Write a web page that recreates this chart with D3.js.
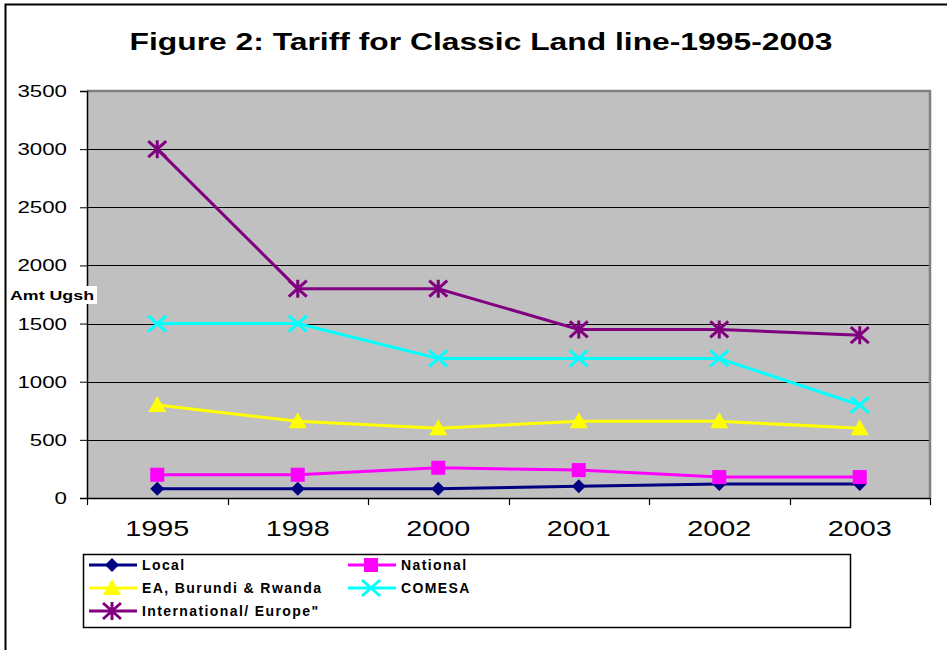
<!DOCTYPE html>
<html>
<head>
<meta charset="utf-8">
<script src="https://cdn.jsdelivr.net/npm/d3@7"></script>
<style>
  body { margin: 0; background: #fff; }
  svg { display: block; font-family: "Liberation Sans", Arial, sans-serif; }
</style>
</head>
<body>
<div id="vis"></div>
<script>
// Data
const YEARS = ["1995", "1998", "2000", "2001", "2002", "2003"];
const LOCAL = [80, 80, 80, 100, 120, 120];
const NATIONAL = [200, 200, 260, 240, 180, 180];
const EA = [800, 660, 600, 660, 660, 600];
const COMESA = [1500, 1500, 1200, 1200, 1200, 800];
const INTERNATIONAL = [3000, 1800, 1800, 1450, 1450, 1400];
const Y_TICKS = [0, 500, 1000, 1500, 2000, 2500, 3000, 3500];

const SERIES = [
    { name: "Local", values: LOCAL, color: "#000080", marker: "diamond" },
    { name: "National", values: NATIONAL, color: "#FF00FF", marker: "square" },
    { name: "EA, Burundi & Rwanda", values: EA, color: "#FFFF00", marker: "triangle" },
    { name: "COMESA", values: COMESA, color: "#00FFFF", marker: "cross" },
    { name: "International/ Europe\"", values: INTERNATIONAL, color: "#800080", marker: "star" }
];

// Constants
const FRAME_WIDTH = 947;
const FRAME_HEIGHT = 650;
const PLOT = { left: 87, right: 930, top: 91, bottom: 498 };

const FRAME = d3.select("#vis")
    .append("svg")
    .attr("width", FRAME_WIDTH)
    .attr("height", FRAME_HEIGHT);

// outer border (left + top visible)
FRAME.append("path")
    .attr("d", "M5.5,660 L5.5,4.5 L960,4.5")
    .attr("fill", "none")
    .attr("stroke", "#000")
    .attr("stroke-width", 2);

// title
FRAME.append("text")
    .attr("x", 481)
    .attr("y", 50)
    .attr("text-anchor", "middle")
    .attr("font-size", "24px")
    .attr("font-weight", "bold")
    .attr("textLength", 703)
    .attr("lengthAdjust", "spacingAndGlyphs")
    .text("Figure 2: Tariff for Classic Land line-1995-2003");

// scales
const X_SCALE = d3.scaleBand()
    .domain(YEARS)
    .range([PLOT.left, PLOT.right]);

const Y_SCALE = d3.scaleLinear()
    .domain([0, 3500])
    .range([PLOT.bottom, PLOT.top]);

// plot background
FRAME.append("rect")
    .attr("x", PLOT.left)
    .attr("y", PLOT.top)
    .attr("width", PLOT.right - PLOT.left)
    .attr("height", PLOT.bottom - PLOT.top)
    .attr("fill", "#C0C0C0");

// gridlines
FRAME.append("g")
    .selectAll("line")
    .data(Y_TICKS.filter(d => d > 0 && d < 3500))
    .enter()
    .append("line")
    .attr("x1", PLOT.left)
    .attr("x2", PLOT.right)
    .attr("y1", d => Math.round(Y_SCALE(d)) + 0.5)
    .attr("y2", d => Math.round(Y_SCALE(d)) + 0.5)
    .attr("stroke", "#000")
    .attr("stroke-width", 1.2);

// plot border top + right
FRAME.append("path")
    .attr("d", "M" + PLOT.left + "," + PLOT.top + " L" + PLOT.right + "," + PLOT.top +
        " L" + PLOT.right + "," + PLOT.bottom)
    .attr("fill", "none")
    .attr("stroke", "#808080")
    .attr("stroke-width", 2.5);

// y axis
const yAxis = FRAME.append("g")
    .attr("transform", "translate(" + PLOT.left + ",0)")
    .call(d3.axisLeft(Y_SCALE).tickValues(Y_TICKS).tickFormat(d3.format("d")).tickSize(7).tickPadding(13));
yAxis.select(".domain").attr("stroke-width", 1.5);
yAxis.selectAll("text")
    .attr("font-size", "17px")
    .attr("fill", "#000")
    .attr("font-family", "Liberation Sans, Arial, sans-serif")
    .attr("textLength", d => String(d).length * 12.4)
    .attr("lengthAdjust", "spacingAndGlyphs");

// x axis
const xAxis = FRAME.append("g")
    .attr("transform", "translate(0," + PLOT.bottom + ")")
    .call(d3.axisBottom(X_SCALE).tickSize(0).tickPadding(22));
xAxis.select(".domain").attr("stroke-width", 1.5);
xAxis.selectAll("text")
    .attr("font-size", "22px")
    .attr("fill", "#000")
    .attr("font-family", "Liberation Sans, Arial, sans-serif")
    .attr("textLength", 64)
    .attr("lengthAdjust", "spacingAndGlyphs");

// x ticks at band boundaries
FRAME.append("g")
    .selectAll("line")
    .data(YEARS.concat(["end"]))
    .enter()
    .append("line")
    .attr("x1", (d, i) => Math.round(PLOT.left + i * X_SCALE.step()) + 0.5)
    .attr("x2", (d, i) => Math.round(PLOT.left + i * X_SCALE.step()) + 0.5)
    .attr("y1", PLOT.bottom)
    .attr("y2", PLOT.bottom + 7)
    .attr("stroke", "#000")
    .attr("stroke-width", 1.2);

// y axis title with white box
FRAME.append("rect")
    .attr("x", 8)
    .attr("y", 286)
    .attr("width", 89)
    .attr("height", 18)
    .attr("fill", "#fff");
FRAME.append("text")
    .attr("x", 10)
    .attr("y", 300)
    .attr("font-size", "12px")
    .attr("font-weight", "bold")
    .attr("textLength", 84)
    .attr("lengthAdjust", "spacingAndGlyphs")
    .text("Amt Ugsh");

// markers
function drawMarker(g, type, color, cx, cy) {
    if (type === "diamond") {
        g.append("path")
            .attr("d", "M" + cx + "," + (cy - 7) + " L" + (cx + 7) + "," + cy + " L" + cx + "," + (cy + 7) + " L" + (cx - 7) + "," + cy + "Z")
            .attr("fill", color);
    } else if (type === "square") {
        g.append("rect")
            .attr("x", cx - 7).attr("y", cy - 7)
            .attr("width", 14).attr("height", 14)
            .attr("fill", color);
    } else if (type === "triangle") {
        g.append("path")
            .attr("d", "M" + cx + "," + (cy - 9) + " L" + (cx + 9) + "," + (cy + 7) + " L" + (cx - 9) + "," + (cy + 7) + "Z")
            .attr("fill", color);
    } else if (type === "cross") {
        g.append("path")
            .attr("d", "M" + (cx - 9) + "," + (cy - 8) + " L" + (cx + 9) + "," + (cy + 8) +
                " M" + (cx + 9) + "," + (cy - 8) + " L" + (cx - 9) + "," + (cy + 8))
            .attr("stroke", color).attr("stroke-width", 3).attr("fill", "none");
    } else if (type === "star") {
        g.append("path")
            .attr("d", "M" + (cx - 9) + "," + (cy - 8) + " L" + (cx + 9) + "," + (cy + 8) +
                " M" + (cx + 9) + "," + (cy - 8) + " L" + (cx - 9) + "," + (cy + 8) +
                " M" + cx + "," + (cy - 9) + " L" + cx + "," + (cy + 9))
            .attr("stroke", color).attr("stroke-width", 3).attr("fill", "none");
    }
}

// series lines + markers
const line = d3.line()
    .x((d, i) => X_SCALE(YEARS[i]) + X_SCALE.bandwidth() / 2)
    .y(d => Y_SCALE(d));

SERIES.forEach(s => {
    const g = FRAME.append("g");
    g.append("path")
        .datum(s.values)
        .attr("d", line)
        .attr("fill", "none")
        .attr("stroke", s.color)
        .attr("stroke-width", 3);
    s.values.forEach((v, i) => {
        drawMarker(g, s.marker, s.color, X_SCALE(YEARS[i]) + X_SCALE.bandwidth() / 2, Y_SCALE(v));
    });
});

// legend
FRAME.append("rect")
    .attr("x", 83.5)
    .attr("y", 554.5)
    .attr("width", 767)
    .attr("height", 73)
    .attr("fill", "#fff")
    .attr("stroke", "#000")
    .attr("stroke-width", 1.5);

const LEG_POS = [
    { x: 89, y: 565 }, { x: 348, y: 565 },
    { x: 89, y: 588 }, { x: 348, y: 588 },
    { x: 89, y: 611 }
];

SERIES.forEach((s, i) => {
    const p = LEG_POS[i];
    const g = FRAME.append("g");
    g.append("line")
        .attr("x1", p.x).attr("x2", p.x + 48)
        .attr("y1", p.y).attr("y2", p.y)
        .attr("stroke", s.color)
        .attr("stroke-width", 3);
    drawMarker(g, s.marker, s.color, p.x + 23, p.y);
    g.append("text")
        .attr("x", p.x + 53)
        .attr("y", p.y + 5)
        .attr("font-size", "14px")
        .attr("font-weight", "bold")
        .attr("letter-spacing", "1.4px")
        .text(s.name);
});
</script>
</body>
</html>
